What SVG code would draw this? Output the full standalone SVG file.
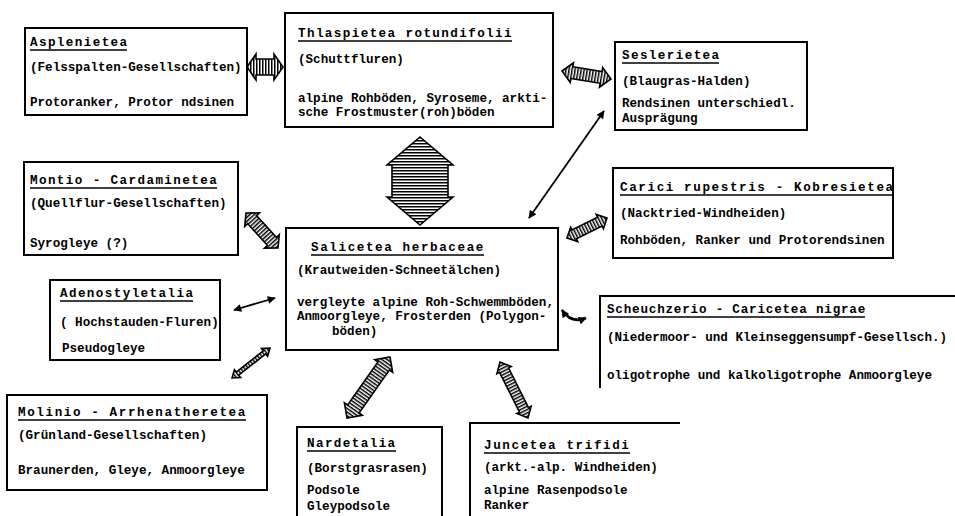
<svg xmlns="http://www.w3.org/2000/svg" width="955" height="516" viewBox="0 0 955 516">
<style>
.t{font-family:"Liberation Mono","DejaVu Sans Mono",monospace;font-weight:bold;font-size:12.6px;fill:#000}
.h{letter-spacing:1.4px}
.box{fill:#fff;stroke:#000;stroke-width:2}
.open{fill:none;stroke:#000;stroke-width:2}
.ul{stroke:#000;stroke-width:1.3}
.blk{fill:url(#hatch);stroke:#000;stroke-width:1.6;stroke-linejoin:miter}
.thin{fill:none;stroke:#000;stroke-width:1.8;marker-start:url(#ah);marker-end:url(#ah)}
</style>
<defs>
<pattern id="hatch" patternUnits="userSpaceOnUse" width="3" height="3">
<rect x="0" y="0" width="1.5" height="3" fill="#000"/>
</pattern>
<marker id="ah" viewBox="0 0 10 10" refX="9" refY="5" markerWidth="9" markerHeight="8" markerUnits="userSpaceOnUse" orient="auto-start-reverse">
<path d="M0,0 L10,5 L0,10 Z" fill="#000"/>
</marker>
</defs>

<g id="connectors">
<g transform="translate(247,67)"><path class="blk" d="M0,0 L9,-13 L9,-8 L27,-8 L27,-13 L36,0 L27,13 L27,8 L9,8 L9,13 Z"/></g>
<g transform="translate(562,71) rotate(9.27)"><path class="blk" d="M0,0 L10,-10 L10,-6 L39.6,-6 L39.6,-10 L49.6,0 L39.6,10 L39.6,6 L10,6 L10,10 Z"/></g>
<g transform="translate(246,213) rotate(47.56)"><path class="blk" d="M0,0 L9,-10 L9,-6 L38.4,-6 L38.4,-10 L47.4,0 L38.4,10 L38.4,6 L9,6 L9,10 Z"/></g>
<g transform="translate(567,238) rotate(-26.57)"><path class="blk" d="M0,0 L8,-8 L8,-5 L36.7,-5 L36.7,-8 L44.7,0 L36.7,8 L36.7,5 L8,5 L8,8 Z"/></g>
<g transform="translate(390,357) rotate(125.18)"><path class="blk" d="M0,0 L11,-11 L11,-7 L63.6,-7 L63.6,-11 L74.6,0 L63.6,11 L63.6,7 L11,7 L11,11 Z"/></g>
<g transform="translate(500,362) rotate(63.43)"><path class="blk" d="M0,0 L9,-8 L9,-5 L53.6,-5 L53.6,-8 L62.6,0 L53.6,8 L53.6,5 L9,5 L9,8 Z"/></g>
<g transform="translate(420,137) rotate(90)"><path class="blk" d="M0,0 L28,-33 L28,-28 L60,-28 L60,-33 L88,0 L60,33 L60,28 L28,28 L28,33 Z"/></g>
<g transform="translate(232,378) rotate(-38.29)"><path class="blk" d="M0,0 L7,-5 L7,-2 L41.4,-2 L41.4,-5 L48.4,0 L41.4,5 L41.4,2 L7,2 L7,5 Z"/></g>
<path class="thin" d="M529,218 L604,111"/>
<path class="thin" d="M234,310 L275,298"/>
<path class="thin" style="stroke-width:2.6" d="M562,310 Q571,324 586,318"/>
</g>

<g id="asplenietea">
<rect class="box" x="25" y="28" width="222" height="87"/>
<text class="t h" x="30" y="46">Asplenietea</text>
<line class="ul" x1="30" y1="50" x2="127" y2="50"/>
<text class="t" x="30" y="71">(Felsspalten-Gesellschaften)</text>
<text class="t" x="30" y="106">Protoranker, Protor ndsinen</text>
</g>

<g id="thlaspietea">
<rect class="box" x="285" y="13" width="268" height="114"/>
<text class="t h" x="298" y="37">Thlaspietea rotundifolii</text>
<line class="ul" x1="298" y1="41" x2="512" y2="41"/>
<text class="t" x="298" y="63">(Schuttfluren)</text>
<text class="t" x="298" y="102">alpine Rohböden, Syroseme, arkti-</text>
<text class="t" x="298" y="116">sche Frostmuster(roh)böden</text>
</g>

<g id="seslerietea">
<rect class="box" x="615" y="42" width="192" height="88"/>
<text class="t h" x="622" y="59">Seslerietea</text>
<line class="ul" x1="622" y1="63" x2="719" y2="63"/>
<text class="t" x="622" y="85">(Blaugras-Halden)</text>
<text class="t" x="622" y="107">Rendsinen unterschiedl.</text>
<text class="t" x="622" y="122">Ausprägung</text>
</g>

<g id="montio">
<rect class="box" x="24" y="162" width="214" height="93"/>
<text class="t h" x="30" y="184">Montio - Cardaminetea</text>
<line class="ul" x1="30" y1="188" x2="217" y2="188"/>
<text class="t" x="30" y="207">(Quellflur-Gesellschaften)</text>
<text class="t" x="30" y="247">Syrogleye (?)</text>
</g>

<g id="salicetea">
<rect class="box" x="286" y="228" width="272" height="122"/>
<text class="t h" x="311" y="251" style="letter-spacing:1.6px">Salicetea herbaceae</text>
<line class="ul" x1="311" y1="255" x2="484" y2="255"/>
<text class="t" x="297" y="274">(Krautweiden-Schneetälchen)</text>
<text class="t" x="297" y="306">vergleyte alpine Roh-Schwemmböden,</text>
<text class="t" x="297" y="320">Anmoorgleye, Frosterden (Polygon-</text>
<text class="t" x="332" y="335">böden)</text>
</g>

<g id="carici">
<rect class="box" x="613" y="168" width="280" height="90"/>
<text class="t h" x="620" y="191" style="letter-spacing:1.6px">Carici rupestris - Kobresietea</text>
<line class="ul" x1="620" y1="195" x2="892" y2="195"/>
<text class="t" x="620" y="217">(Nacktried-Windheiden)</text>
<text class="t" x="620" y="244">Rohböden, Ranker und Protorendsinen</text>
</g>

<g id="adenostyletalia">
<rect class="box" x="50" y="280" width="170" height="80"/>
<text class="t h" x="60" y="297">Adenostyletalia</text>
<line class="ul" x1="60" y1="301" x2="193" y2="301"/>
<text class="t" x="60" y="326">( Hochstauden-Fluren)</text>
<text class="t" x="62" y="352">Pseudogleye</text>
</g>

<g id="scheuchzerio">
<path class="open" d="M955,296 H600 V388"/>
<text class="t h" x="607" y="313" style="letter-spacing:0.8px">Scheuchzerio - Caricetea nigrae</text>
<line class="ul" x1="607" y1="317" x2="865" y2="317"/>
<text class="t" x="607" y="341">(Niedermoor- und Kleinseggensumpf-Gesellsch.)</text>
<text class="t" x="607" y="379">oligotrophe und kalkoligotrophe Anmoorgleye</text>
</g>

<g id="molinio">
<rect class="box" x="7" y="395" width="260" height="95"/>
<text class="t h" x="18" y="416" style="letter-spacing:1.6px">Molinio - Arrhenatheretea</text>
<line class="ul" x1="18" y1="420" x2="246" y2="420"/>
<text class="t" x="18" y="439">(Grünland-Gesellschaften)</text>
<text class="t" x="18" y="474">Braunerden, Gleye, Anmoorgleye</text>
</g>

<g id="nardetalia">
<path class="open" d="M297,516 V427 H442 V516"/>
<text class="t h" x="307" y="447">Nardetalia</text>
<line class="ul" x1="307" y1="451" x2="396" y2="451"/>
<text class="t" x="307" y="472">(Borstgrasrasen)</text>
<text class="t" x="307" y="494">Podsole</text>
<text class="t" x="307" y="510">Gleypodsole</text>
</g>

<g id="juncetea">
<path class="open" d="M470,516 V423 H680"/>
<text class="t h" x="484" y="449" style="letter-spacing:1.6px">Juncetea trifidi</text>
<line class="ul" x1="484" y1="453" x2="630" y2="453"/>
<text class="t" x="484" y="471">(arkt.-alp. Windheiden)</text>
<text class="t" x="484" y="494">alpine Rasenpodsole</text>
<text class="t" x="484" y="509">Ranker</text>
</g>
</svg>
